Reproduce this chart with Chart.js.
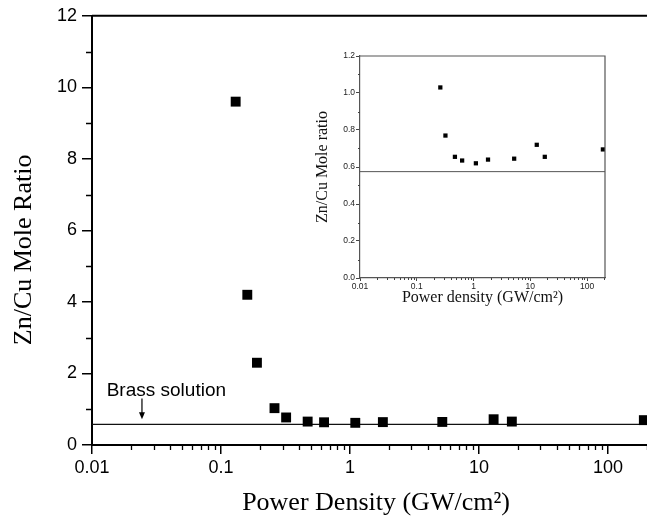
<!DOCTYPE html>
<html lang="en">
<head>
    <meta charset="UTF-8">
    <title>Zn/Cu Mole Ratio vs Power Density</title>
    <script src="https://cdn.jsdelivr.net/npm/chart.js"></script>
    <style>
        body { margin: 0; background: #fff; }
        #wrap { position: relative; width: 647px; height: 525px; overflow: hidden; }
        #main { position: absolute; left: 0; top: 0; }
        #inset { position: absolute; left: 305px; top: 40px; }
    </style>
</head>
<body>
<div id="wrap">
    <canvas id="main" width="647" height="525"></canvas>
    <canvas id="inset" width="310" height="275"></canvas>
</div>
<script>
    // data
    const powerDensity = [0.13, 0.16, 0.19, 0.26, 0.32, 0.47, 0.63, 1.1, 1.8, 5.2, 13, 18, 190];
    const moleRatio = [9.6, 4.2, 2.3, 1.03, 0.77, 0.655, 0.635, 0.62, 0.64, 0.645, 0.72, 0.655, 0.695];
    const insetFrom = 3; // inset shows points from 0.26 GW/cm2 on
    const brassRatio = 0.575;
    const brassLabel = "Brass solution";
    const brassLabelAt = { x: 0.013, y: 1.53 };
    const brassArrow = { x: 0.0244, yFrom: 1.3, yTo: 0.72 };

    const xTickLabels = [0.01, 0.1, 1, 10, 100];
    const yTicksMain = [0, 2, 4, 6, 8, 10, 12];
    const yTicksInset = [0, 0.2, 0.4, 0.6, 0.8, 1.0, 1.2];
    const xMin = 0.01, xMax = 201, xMaxInset = 207;

    const sans = "'Liberation Sans', Arial, sans-serif";
    const serif = "'Liberation Serif', 'Times New Roman', serif";

    function pts(from) {
        return powerDensity.slice(from).map((x, i) => ({ x: x, y: moleRatio[from + i] }));
    }

    function logMinors(max) {
        const out = [];
        xTickLabels.concat([1000]).forEach(d => {
            for (let k = 2; k <= 9; k++) if (k * d <= max) out.push(k * d);
        });
        return out;
    }

    // minor ticks + frame lines
    const frame = {
        id: "frame",
        afterDraw(chart, args, o) {
            const { ctx, chartArea: a, scales: { x, y } } = chart;
            ctx.save();
            ctx.strokeStyle = o.color;
            ctx.lineWidth = o.minorWidth;
            ctx.beginPath();
            logMinors(x.max).forEach(v => {
                const px = Math.round(x.getPixelForValue(v)) + 0.5;
                ctx.moveTo(px, a.bottom);
                ctx.lineTo(px, a.bottom + o.minorX);
            });
            o.yMinors.forEach(v => {
                const py = Math.round(y.getPixelForValue(v)) + 0.5;
                ctx.moveTo(a.left, py);
                ctx.lineTo(a.left - o.minorY, py);
            });
            ctx.stroke();
            ctx.lineWidth = o.frameWidth;
            ctx.strokeStyle = o.frameColor;
            ctx.beginPath();
            ctx.moveTo(a.left, a.top);
            ctx.lineTo(a.right, a.top);
            if (o.box) {
                ctx.lineTo(a.right, a.bottom);
            }
            ctx.stroke();
            ctx.restore();
        }
    };

    const brassNote = {
        id: "brassNote",
        afterDatasetsDraw(chart) {
            const { ctx, scales: { x, y } } = chart;
            ctx.save();
            ctx.fillStyle = "#000";
            ctx.font = "19px " + sans;
            ctx.textBaseline = "middle";
            ctx.fillText(brassLabel, x.getPixelForValue(brassLabelAt.x), y.getPixelForValue(brassLabelAt.y));
            const ax = x.getPixelForValue(brassArrow.x);
            const y0 = y.getPixelForValue(brassArrow.yFrom);
            const y1 = y.getPixelForValue(brassArrow.yTo);
            ctx.strokeStyle = "#000";
            ctx.lineWidth = 1.2;
            ctx.beginPath();
            ctx.moveTo(ax, y0);
            ctx.lineTo(ax, y1 - 5);
            ctx.stroke();
            ctx.beginPath();
            ctx.moveTo(ax - 3, y1 - 7);
            ctx.lineTo(ax + 3, y1 - 7);
            ctx.lineTo(ax, y1);
            ctx.closePath();
            ctx.fill();
            ctx.restore();
        }
    };

    // main chart
    new Chart(document.getElementById("main"), {
        type: "scatter",
        data: {
            datasets: [{
                data: pts(0),
                pointStyle: "rect",
                pointRadius: 7,
                pointBorderWidth: 0,
                backgroundColor: "#000",
                clip: false,
                order: 0
            }, {
                type: "line",
                data: [{ x: xMin, y: brassRatio }, { x: xMax, y: brassRatio }],
                borderColor: "#111",
                borderWidth: 1.2,
                pointRadius: 0,
                order: 1
            }]
        },
        options: {
            responsive: false,
            animation: false,
            events: [],
            layout: { autoPadding: false, padding: { top: 13, right: 0, bottom: 0, left: 0 } },
            plugins: {
                legend: { display: false },
                tooltip: { enabled: false },
                frame: { color: "#000", minorWidth: 1.3, minorX: 5, minorY: 6, yMinors: [1, 3, 5, 7, 9, 11], frameWidth: 2, frameColor: "#000", box: false }
            },
            scales: {
                x: {
                    type: "logarithmic",
                    min: xMin,
                    max: xMax,
                    afterBuildTicks: s => { s.ticks = xTickLabels.map(v => ({ value: v })); },
                    afterFit: s => { s.height = 80; },
                    ticks: {
                        callback: v => String(v),
                        color: "#000",
                        font: { family: sans, size: 18 },
                        padding: 3,
                        maxRotation: 0,
                        autoSkip: false
                    },
                    grid: { drawOnChartArea: false, tickLength: 9, color: "#000", lineWidth: 1.5 },
                    border: { color: "#000", width: 2 },
                    title: {
                        display: true,
                        text: "\u2002Power Density (GW/cm²)",
                        color: "#000",
                        font: { family: serif, size: 26 },
                        padding: { top: 0, bottom: 6 }
                    }
                },
                y: {
                    min: 0,
                    max: 12,
                    afterBuildTicks: s => { s.ticks = yTicksMain.map(v => ({ value: v })); },
                    afterFit: s => { s.width = 92; },
                    ticks: { color: "#000", font: { family: sans, size: 18 }, padding: 5 },
                    grid: { drawOnChartArea: false, tickLength: 10, color: "#000", lineWidth: 1.5 },
                    border: { color: "#000", width: 2 },
                    title: {
                        display: true,
                        text: "Zn/Cu Mole Ratio\u2002\u2002\u2002",
                        color: "#000",
                        font: { family: serif, size: 26 },
                        padding: { top: 9, bottom: 0 }
                    }
                }
            }
        },
        plugins: [frame, brassNote]
    });

    // inset chart
    new Chart(document.getElementById("inset"), {
        type: "scatter",
        data: {
            datasets: [{
                data: pts(insetFrom),
                pointStyle: "rect",
                pointRadius: 3,
                pointBorderWidth: 0,
                backgroundColor: "#000",
                clip: false,
                order: 0
            }, {
                type: "line",
                data: [{ x: xMin, y: brassRatio }, { x: xMaxInset, y: brassRatio }],
                borderColor: "#555",
                borderWidth: 1,
                pointRadius: 0,
                order: 1
            }]
        },
        options: {
            responsive: false,
            animation: false,
            events: [],
            layout: { autoPadding: false, padding: { top: 16, right: 10, bottom: 0, left: 0 } },
            plugins: {
                legend: { display: false },
                tooltip: { enabled: false },
                frame: { color: "#444", minorWidth: 1, minorX: 2, minorY: 2, yMinors: [0.1, 0.3, 0.5, 0.7, 0.9, 1.1], frameWidth: 1.2, frameColor: "#555", box: true }
            },
            scales: {
                x: {
                    type: "logarithmic",
                    min: xMin,
                    max: xMaxInset,
                    afterBuildTicks: s => { s.ticks = xTickLabels.map(v => ({ value: v })); },
                    afterFit: s => { s.height = 37; },
                    ticks: {
                        callback: v => String(v),
                        color: "#222",
                        font: { family: sans, size: 8.5 },
                        padding: 1,
                        maxRotation: 0,
                        autoSkip: false
                    },
                    grid: { drawOnChartArea: false, tickLength: 3, color: "#444", lineWidth: 1 },
                    border: { color: "#555", width: 1.2 },
                    title: {
                        display: true,
                        text: "Power density (GW/cm²)",
                        color: "#111",
                        font: { family: serif, size: 16 },
                        padding: { top: 0, bottom: 8 }
                    }
                },
                y: {
                    min: 0,
                    max: 1.2,
                    afterBuildTicks: s => { s.ticks = yTicksInset.map(v => ({ value: v })); },
                    afterFit: s => { s.width = 55; },
                    ticks: {
                        callback: v => v.toFixed(1),
                        color: "#222",
                        font: { family: sans, size: 8.5 },
                        padding: 1
                    },
                    grid: { drawOnChartArea: false, tickLength: 4, color: "#444", lineWidth: 1 },
                    border: { color: "#555", width: 1.2 },
                    title: {
                        display: true,
                        text: "Zn/Cu Mole ratio",
                        color: "#111",
                        font: { family: serif, size: 16 },
                        padding: { top: 8, bottom: 0 }
                    }
                }
            }
        },
        plugins: [frame]
    });
</script>
</body>
</html>
